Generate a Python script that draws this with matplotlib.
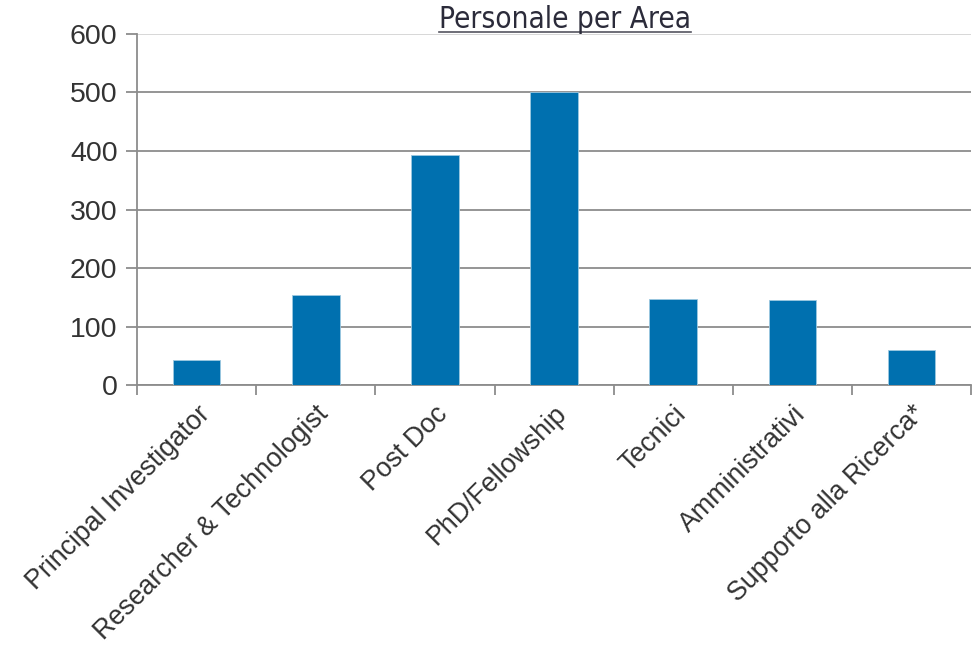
import matplotlib
matplotlib.use("Agg")
import matplotlib.pyplot as plt
from matplotlib.lines import Line2D

categories = ["Principal Investigator", "Researcher & Technologist", "Post Doc",
              "PhD/Fellowship", "Tecnici", "Amministrativi", "Supporto alla Ricerca*"]
values = [43, 154, 393, 500, 148, 145, 60]
yticks = [0, 100, 200, 300, 400, 500, 600]
title = "Personale per Area"

fig = plt.figure(figsize=(9.8, 6.46), dpi=100)
ax = fig.add_axes([0.1398, 0.4033, 0.991 - 0.1398, 0.948 - 0.4033])

x = list(range(len(categories)))
ax.bar(x, values, width=0.40, color="#0070AF", edgecolor="#9cc8e0", linewidth=0.6, zorder=3)

ax.set_xlim(-0.5, len(categories) - 0.5)
ax.set_ylim(0, 600)
ax.set_yticks(yticks)
ax.set_yticklabels([str(v) for v in yticks], fontsize=20.5, color="#333333",
                   family=["Liberation Sans", "DejaVu Sans"])
ax.yaxis.grid(True, color="#8c8c8c", linewidth=1.3, zorder=0)
ax.set_axisbelow(True)
gl = ax.get_ygridlines()
gl[-1].set_color("#d4d4d4")

for s in ["top", "right"]:
    ax.spines[s].set_visible(False)
for s in ["left", "bottom"]:
    ax.spines[s].set_color("#8c8c8c")
    ax.spines[s].set_linewidth(1.3)

ax.tick_params(axis="y", length=8, width=1.3, color="#8c8c8c", pad=6)
ax.set_xticks([i - 0.5 for i in range(len(categories) + 1)], minor=False)
ax.set_xticklabels([""] * (len(categories) + 1))
ax.tick_params(axis="x", which="major", length=7, width=1.3, color="#8c8c8c")
ax.set_xticks(x, minor=True)
ax.set_xticklabels(categories, minor=True, rotation=45, ha="right", va="top",
                   rotation_mode="anchor", fontsize=19.3, color="#333333",
                   family=["Liberation Sans", "DejaVu Sans"])
ax.tick_params(axis="x", which="minor", length=0, pad=11)

t = fig.text(0.5765, 1 - 28.5 / 646, title, ha="center", va="baseline", fontsize=21.3,
             color="#2b2b3a", family=["DejaVu Sans"], fontstretch="condensed")
fig.canvas.draw()
bb = t.get_window_extent(renderer=fig.canvas.get_renderer())
inv = fig.transFigure.inverted()
(x0, y0), (x1, y1) = inv.transform([[bb.x0, bb.y0], [bb.x1, bb.y1]])
uy = 1 - 31.5 / 646
fig.add_artist(Line2D([x0, x1], [uy, uy], transform=fig.transFigure,
                      color="#555560", linewidth=1.2))

fig.savefig("out.png", dpi=100)
